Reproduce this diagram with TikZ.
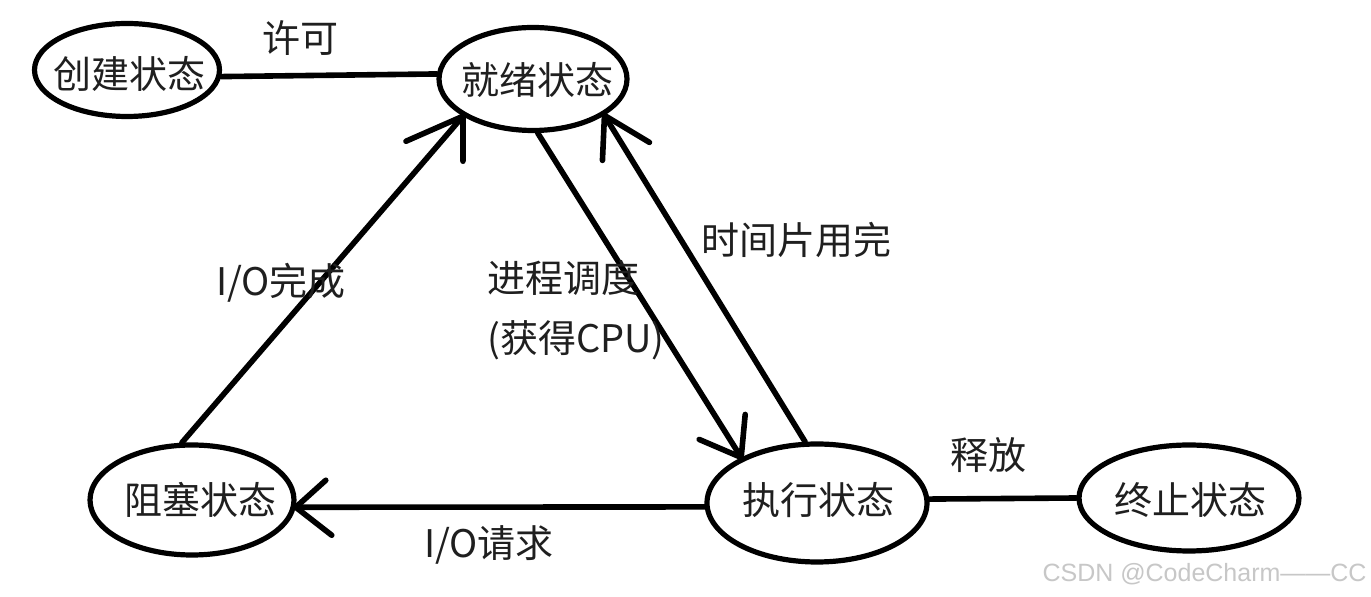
\documentclass[tikz,border=0pt]{standalone}
\usepackage{fontspec}
\setmainfont{Noto Sans CJK SC}
\newfontfamily\wmfont{Liberation Sans}
\usetikzlibrary{shapes.geometric}
\begin{document}
\begin{tikzpicture}[x=0.5pt,y=-0.5pt,
  state/.style={ellipse, draw, line width=2.6pt, inner sep=0pt, fill=white},
  conn/.style={line width=2.8pt, line cap=round, line join=round},
  lbl/.style={font=\fontsize{19}{22}\selectfont, inner sep=0pt, text=black!88},
]
\useasboundingbox[fill=white] (0,0) rectangle (1371,597);
% states
\node[state, minimum width=92.5pt, minimum height=46.5pt] (cj) at (127,70) {};
\node[state, minimum width=94pt, minimum height=51.5pt] (zu) at (533,79) {};
\node[state, minimum width=102pt, minimum height=55pt] (zs) at (192,500) {};
\node[state, minimum width=110pt, minimum height=59pt] (zx) at (817,503) {};
\node[state, minimum width=110pt, minimum height=53pt] (zz) at (1189,498) {};
\node[lbl] (cjt) at (130,74) {创建状态};
\node[lbl] (zut) at (537,80) {就绪状态};
\node[lbl] (zst) at (200,500) {阻塞状态};
\node[lbl] (zxt) at (818,500) {执行状态};
\node[lbl] (zzt) at (1190,500) {终止状态};
% plain connectors
\draw[conn] (cj.-4) -- (zu.177);
\draw[conn] (zx.2) -- (zz.180);
% blocked -> ready
\draw[conn] (zs.100) -- (zu.-152);
\draw[conn] (zu.-152) -- ++(-57,25) (zu.-152) -- ++(0,45);
% ready -> running
\draw[conn] (zu.-85) -- (zx.149);
\draw[conn] (zx.149) -- ++(4,-43) (zx.149) -- ++(-42,-18);
% running -> ready
\draw[conn] (zx.101) -- (zu.-27);
\draw[conn] (zu.-27) -- ++(45,27) (zu.-27) -- ++(-2,45);
% running -> blocked
\draw[conn] (zx.-178) -- (zs.-4);
\draw[conn] (zs.-4) -- ++(30,-27) (zs.-4) -- ++(36,28);
% labels
\node[lbl] (lxk) at (300,38) {许可};
\node[lbl] (lio1) at (281,283) {I/O完成};
\node[lbl, anchor=west] (ljc1) at (487,278) {进程调度};
\node[lbl, anchor=west] (ljc2) at (487,340) {(获得CPU)};
\node[lbl] (lsj) at (796,240) {时间片用完};
\node[lbl] (lio2) at (489,545) {I/O请求};
\node[lbl] (lsf) at (988,455) {释放};
\node[anchor=east, text=black!22, font=\wmfont\fontsize{12.5}{14}\selectfont, inner sep=0pt] (wm) at (1367,574) {CSDN @CodeCharm——CC};
\end{tikzpicture}
\end{document}
